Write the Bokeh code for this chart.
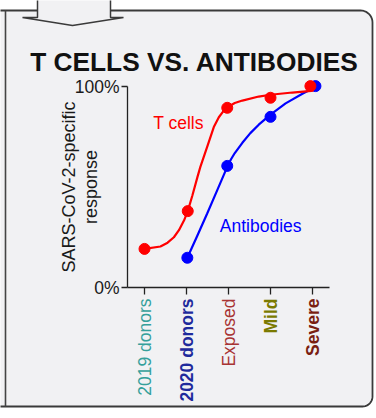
import numpy as np
from bokeh.plotting import figure
from bokeh.models import Range1d, FixedTicker, Label, PolyAnnotation
from bokeh.embed import file_html
from bokeh.resources import INLINE

# ---------------- data ----------------
categories = ["2019 donors", "2020 donors", "Exposed", "Mild", "Severe"]
category_colors = ["#35a09b", "#1f2a9c", "#a83434", "#7a7a00", "#7a1e12"]
category_weights = ["normal", "bold", "normal", "bold", "bold"]

tcell_x = [0.0, 1.03, 1.97, 3.0, 3.95]
tcell_pct = [19.2, 38.0, 89.4, 94.4, 100.2]
antibody_x = [1.02, 1.97, 3.0, 4.07]
antibody_pct = [14.8, 60.5, 84.9, 100.2]

tcell_fit_x = [0.0, 0.38, 0.55, 0.70, 0.82, 0.94, 1.03, 1.14, 1.26, 1.33, 1.49,
               1.65, 1.77, 1.87, 1.97, 2.15, 2.33, 2.72, 3.00, 3.52, 3.91, 4.02]
tcell_fit_pct = [19.2, 20.4, 22.3, 25.0, 28.5, 33.3, 38.0, 45.8, 54.9, 60.0, 69.8,
                 79.8, 84.7, 87.5, 89.7, 91.8, 93.0, 95.0, 95.9, 97.0, 97.7, 98.0]
antibody_fit_x = [1.02, 1.26, 1.49, 1.73, 1.97, 2.06, 2.15, 2.33, 2.52, 2.72, 3.00,
                  3.36, 3.76, 4.03]
antibody_fit_pct = [14.8, 25.9, 36.7, 48.3, 60.0, 63.8, 66.9, 72.0, 76.8, 81.0, 86.0,
                    91.6, 96.4, 99.4]

y_ticks = [0, 100]
y_tick_labels = ["0%", "100%"]

# ---------------- layout ----------------
W, H = 376, 418
X0_PX, X_STEP = 144.0, 42.0        # page x of first category, px per category
Y0_PX, Y_STEP = 287.0, 2.01        # page y of 0 %, px per percent
FONT = "Liberation Sans"
PANEL = "#f1f1f3"
EDGE = "#3a3a3a"


def sx(px):          # page px -> frame screen units (frame == canvas)
    return px


def sy(py):
    return H - py


p = figure(width=W, height=H, output_backend="svg", toolbar_location=None,
           x_range=Range1d(-X0_PX / X_STEP, (W - X0_PX) / X_STEP),
           y_range=Range1d((Y0_PX - H) / Y_STEP, Y0_PX / Y_STEP),
           min_border=0, min_border_left=0, min_border_right=0,
           min_border_top=0, min_border_bottom=0)
p.outline_line_color = None
p.background_fill_color = "white"
p.border_fill_color = "white"
p.grid.visible = False


def shape(xs, ys, fill, line, lw):
    p.add_layout(PolyAnnotation(xs=[sx(v) for v in xs], ys=[sy(v) for v in ys],
                                xs_units="screen", ys_units="screen",
                                fill_color=fill, fill_alpha=1.0,
                                line_color=line, line_alpha=1.0, line_width=lw,
                                level="underlay"))


# panel background with rounded right corners
xs, ys = [-10, 360], [10, 10]
for t in np.linspace(np.pi / 2, 0, 12):
    xs.append(360 + 12 * np.cos(t)); ys.append(22 - 12 * np.sin(t))
for t in np.linspace(0, np.pi / 2, 12):
    xs.append(362 + 10 * np.cos(t)); ys.append(396 + 10 * np.sin(t))
xs += [-10]; ys += [406]
shape(xs, ys, PANEL, EDGE, 1.8)
# inner left rule
shape([4.2, 5.8, 5.8, 4.2], [10, 10, 406, 406], "#444444", None, 0)
# arrow at the top
shape([37, 37, 22, 72, 123, 110, 110], [-5, 17, 17, 25, 17, 17, -5], PANEL, EDGE, 1.5)

# ---------------- axes (drawn inside the full-canvas frame) ----------------
x_lo, x_hi = -0.405, 4.405
p.xaxis.fixed_location = 0
p.xaxis.ticker = FixedTicker(ticks=list(range(len(categories))))
p.xaxis.bounds = (x_lo, x_hi)
p.xaxis.major_label_overrides = {i: "" for i in range(len(categories))}
p.xaxis.major_tick_out = 7
p.xaxis.major_tick_in = 0
p.xaxis.minor_tick_line_color = None

p.yaxis.fixed_location = x_lo
p.yaxis.ticker = FixedTicker(ticks=y_ticks)
p.yaxis.bounds = (0, 100)
p.yaxis.major_label_overrides = dict(zip(y_ticks, y_tick_labels))
p.yaxis.major_tick_out = 6
p.yaxis.major_tick_in = 0
p.yaxis.minor_tick_line_color = None
p.yaxis.major_label_standoff = 2
p.yaxis.major_label_text_font = FONT
p.yaxis.major_label_text_font_size = "17.5px"
p.yaxis.major_label_text_color = "#1a1a1a"

for a in (p.xaxis[0], p.yaxis[0]):
    a.axis_line_color = "#222222"
    a.axis_line_width = 1.3
    a.major_tick_line_color = "#222222"
    a.major_tick_line_width = 1.3

# ---------------- data marks ----------------
p.line(antibody_fit_x, antibody_fit_pct, line_color="#0000ff", line_width=2.2)
p.scatter(antibody_x, antibody_pct, size=11, fill_color="#0000ff", line_color="#0000ff")
p.line(tcell_fit_x, tcell_fit_pct, line_color="#ff0000", line_width=2.2)
p.scatter(tcell_x, tcell_pct, size=11, fill_color="#ff0000", line_color="#ff0000")

# ---------------- texts ----------------
p.add_layout(Label(x=sx(194), y=sy(61), x_units="screen", y_units="screen",
                   text="T CELLS VS. ANTIBODIES", text_align="center",
                   text_baseline="alphabetic", text_font=FONT, text_font_style="bold",
                   text_font_size="26.3px", text_color="#111111"))

p.add_layout(Label(x=sx(152.7), y=sy(122), x_units="screen", y_units="screen",
                   text="T cells", text_align="left", text_baseline="alphabetic",
                   text_font=FONT, text_font_size="17.5px", text_color="#ff0000"))
p.add_layout(Label(x=sx(219.3), y=sy(225), x_units="screen", y_units="screen",
                   text="Antibodies", text_align="left", text_baseline="alphabetic",
                   text_font=FONT, text_font_size="17.5px", text_color="#0000ff"))

p.add_layout(Label(x=sx(68.5), y=sy(186.5), x_units="screen", y_units="screen",
                   text="SARS-CoV-2-specific", angle=np.pi / 2, text_align="center",
                   text_baseline="alphabetic", text_font=FONT, text_font_size="18px",
                   text_color="#1a1a1a"))
p.add_layout(Label(x=sx(90.7), y=sy(186.5), x_units="screen", y_units="screen",
                   text="response", angle=np.pi / 2, text_align="center",
                   text_baseline="alphabetic", text_font=FONT, text_font_size="18px",
                   text_color="#1a1a1a"))

for i, (name, col, wt) in enumerate(zip(categories, category_colors, category_weights)):
    p.add_layout(Label(x=i, y=sy(298), x_units="data", y_units="screen",
                       text=name, angle=np.pi / 2, text_align="right",
                       text_baseline="middle", text_font=FONT,
                       text_font_style=wt, text_font_size="17.5px", text_color=col))

open("out.html", "w").write(file_html(p, INLINE))
